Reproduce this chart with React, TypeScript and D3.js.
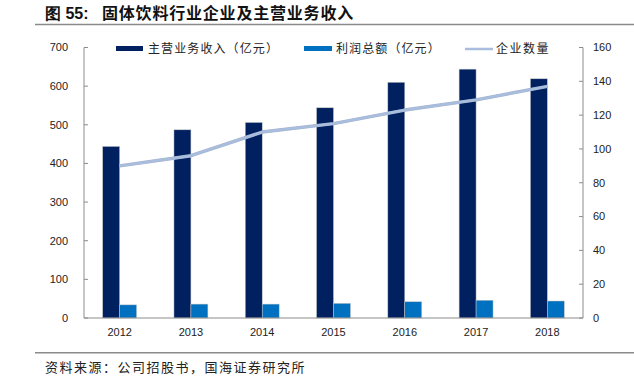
import React from "react";
import * as d3 from "d3";

const years = ["2012", "2013", "2014", "2015", "2016", "2017", "2018"];
const revenue = [444, 487, 506, 544, 610, 644, 619];
const profit = [34, 36, 36, 38, 42, 46, 44];
const companies = [90, 96, 110, 115, 123, 129, 137];
const leftTicks = [0, 100, 200, 300, 400, 500, 600, 700];
const rightTicks = [0, 20, 40, 60, 80, 100, 120, 140, 160];
const seriesNames = ["主营业务收入（亿元）", "利润总额（亿元）", "企业数量"];
const titleLabel = "图 55:";
const titleText = "固体饮料行业企业及主营业务收入";
const sourceText = "资料来源：公司招股书，国海证券研究所";

const W = 634;
const H = 382;
const left = 84;
const right = 583;
const top = 47.5;
const bottom = 318;

const NUM_FONT = "'Liberation Sans', Arial, sans-serif";
const CJK_FONT = "'Noto Sans CJK SC', sans-serif";
const AXIS = "#8c8c8c";
const DARK = "#002060";
const BLUE = "#0070c0";
const LINE = "#a9bddd";

export default function App() {
  const x = d3.scaleBand<string>().domain(years).range([left, right]).paddingInner(0).paddingOuter(0);
  const sub = d3
    .scaleBand<string>()
    .domain(["rev", "profit"])
    .range([0, x.bandwidth()])
    .paddingInner(0)
    .paddingOuter(1.1);
  const yL = d3.scaleLinear().domain([0, 700]).range([bottom, top]);
  const yR = d3.scaleLinear().domain([0, 160]).range([bottom, top]);
  const line = d3
    .line<number>()
    .x((_, i) => (x(years[i]) as number) + x.bandwidth() / 2)
    .y((d) => yR(d));

  return (
    <svg width={W} height={H} style={{ position: "absolute", left: 0, top: 0, background: "#fff" }}>
      {/* title */}
      <text x={45} y={19} fontFamily={NUM_FONT} fontWeight="bold" fontSize={16} fill="#111">
        {titleLabel}
      </text>
      <text x={102} y={19} fontFamily={CJK_FONT} fontWeight="bold" fontSize={16} letterSpacing={0.8} fill="#111">
        {titleText}
      </text>
      <line x1={35} x2={634} y1={24.5} y2={24.5} stroke="#8a8a8a" strokeWidth={1.5} />

      {/* bars */}
      {years.map((yr, i) => {
        const bx = x(yr) as number;
        return (
          <g key={yr}>
            <rect
              x={bx + (sub("rev") as number)}
              y={yL(revenue[i])}
              width={sub.bandwidth()}
              height={bottom - yL(revenue[i])}
              fill={DARK}
              stroke="#c8c8c8"
              strokeWidth={0.5}
            />
            <rect
              x={bx + (sub("profit") as number)}
              y={yL(profit[i])}
              width={sub.bandwidth()}
              height={bottom - yL(profit[i])}
              fill={BLUE}
              stroke="#c8c8c8"
              strokeWidth={0.5}
            />
          </g>
        );
      })}

      {/* line */}
      <path d={line(companies) || ""} fill="none" stroke="#a3b4d0" strokeWidth={3.4} strokeLinejoin="round" />
      <path d={line(companies) || ""} fill="none" stroke={LINE} strokeWidth={2.4} strokeLinejoin="round" />

      {/* axes */}
      <line x1={left} x2={left} y1={top} y2={bottom} stroke={AXIS} strokeWidth={1} />
      <line x1={right} x2={right} y1={top} y2={bottom} stroke={AXIS} strokeWidth={1} />
      <line x1={left} x2={right} y1={bottom} y2={bottom} stroke={AXIS} strokeWidth={1} />
      {leftTicks.map((t) => (
        <g key={"l" + t}>
          <line x1={left} x2={left + 4} y1={yL(t)} y2={yL(t)} stroke={AXIS} />
          <text x={68} y={yL(t)} dy="0.35em" textAnchor="end" fontFamily={NUM_FONT} fontSize={11} fill="#222">
            {t}
          </text>
        </g>
      ))}
      {rightTicks.map((t) => (
        <g key={"r" + t}>
          <line x1={right - 4} x2={right} y1={yR(t)} y2={yR(t)} stroke={AXIS} />
          <text x={593} y={yR(t)} dy="0.35em" textAnchor="start" fontFamily={NUM_FONT} fontSize={11} fill="#222">
            {t}
          </text>
        </g>
      ))}
      {years.map((yr) => (
        <text
          key={"x" + yr}
          x={(x(yr) as number) + x.bandwidth() / 2}
          y={332}
          dy="0.35em"
          textAnchor="middle"
          fontFamily={NUM_FONT}
          fontSize={11}
          fill="#222"
        >
          {yr}
        </text>
      ))}

      {/* legend */}
      <rect x={116} y={46} width={27} height={5} fill={DARK} />
      <text x={148} y={49} dy="0.35em" fontFamily={CJK_FONT} fontSize={12} letterSpacing={1.1} fill="#222">
        {seriesNames[0]}
      </text>
      <rect x={304} y={46} width={28} height={5} fill={BLUE} />
      <text x={336} y={49} dy="0.35em" fontFamily={CJK_FONT} fontSize={12} letterSpacing={1.1} fill="#222">
        {seriesNames[1]}
      </text>
      <line x1={465} x2={493} y1={49} y2={49} stroke={LINE} strokeWidth={2.5} />
      <text x={496} y={49} dy="0.35em" fontFamily={CJK_FONT} fontSize={12} letterSpacing={1.5} fill="#222">
        {seriesNames[2]}
      </text>

      {/* source */}
      <line x1={35} x2={634} y1={352.7} y2={352.7} stroke="#8a8a8a" strokeWidth={1.5} />
      <text x={45} y={367} dy="0.35em" fontFamily={CJK_FONT} fontSize={13} letterSpacing={1.5} fill="#222">
        {sourceText}
      </text>
    </svg>
  );
}
